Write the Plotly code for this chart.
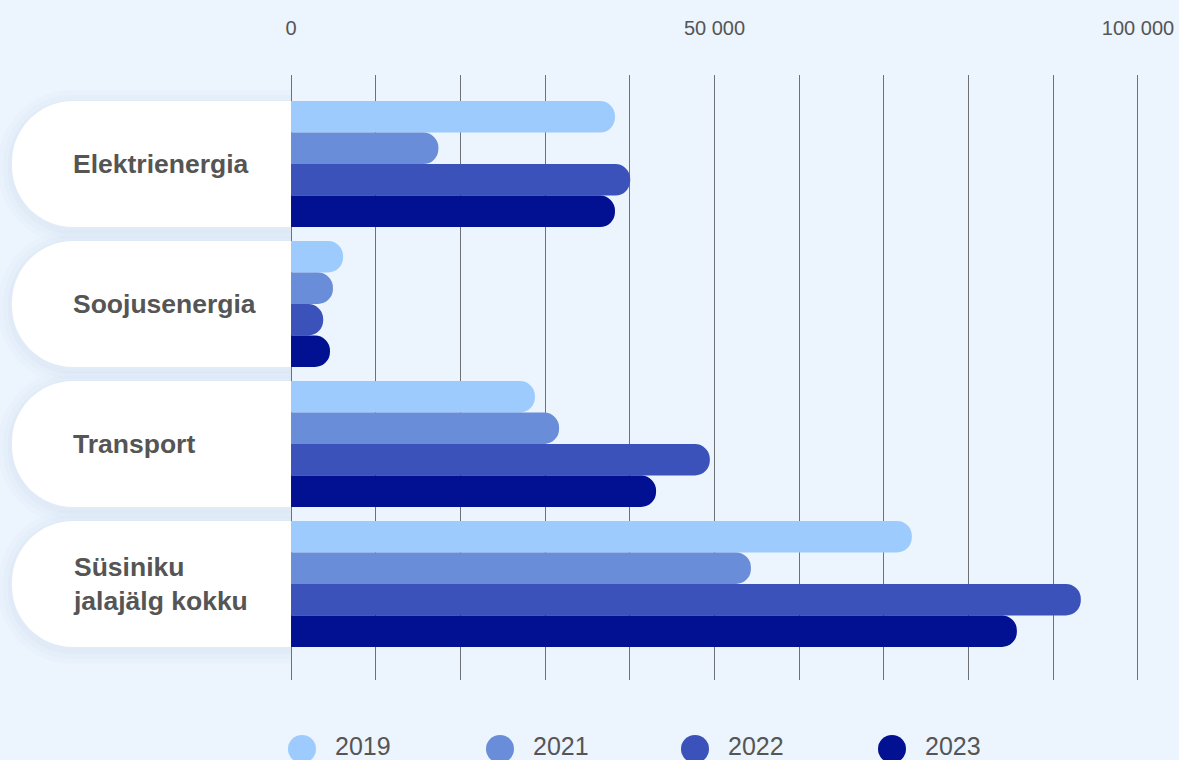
import plotly.graph_objects as go

categories = ["Elektrienergia", "Soojusenergia", "Transport", "Süsiniku<br>jalajälg kokku"]
years = ["2019", "2021", "2022", "2023"]
values_2019 = [38250, 6150, 28800, 73300]
values_2021 = [17400, 4950, 31650, 54300]
values_2022 = [40050, 3800, 49450, 93250]
values_2023 = [38250, 4600, 43100, 85700]
series = [values_2019, values_2021, values_2022, values_2023]
colors = ["#9DCBFE", "#6A8DDA", "#3A52BA", "#021092"]
x_tickvals = [0, 50000, 100000]
x_ticktext = ["0", "50 000", "100 000"]

W, H = 1179, 760
L, R, T, B = 290, 40, 75, 80
PW = W - L - R
PH = H - T - B
XR = [-120, 100120]
x0px = L + (0 - XR[0]) / (XR[1] - XR[0]) * PW

LEFT_PAD = 8000  # hidden part of bars so that only the right end is rounded
fig = go.Figure()
ypos = list(range(len(categories)))
for yr, vals, col in zip(years, series, colors):
    fig.add_trace(go.Bar(
        y=ypos, x=[v + LEFT_PAD for v in vals], base=[-LEFT_PAD] * len(vals),
        orientation="h", name=yr, marker=dict(color=col, line=dict(width=0), cornerradius=15),
        showlegend=False, hovertemplate="%{customdata}<extra>" + yr + "</extra>",
        customdata=vals,
    ))

def pill(xl, xr, h, r, dy=0):
    k = 0.5523 * r
    return (f"M{xr},{h+dy} L{xl+r},{h+dy} C{xl+r-k},{h+dy} {xl},{h-r+k+dy} {xl},{h-r+dy} "
            f"L{xl},{-h+r+dy} C{xl},{-h+r-k+dy} {xl+r-k},{-h+dy} {xl+r},{-h+dy} L{xr},{-h+dy} Z")

anchor0 = (x0px - L) / PW
shapes = []
annotations = []
for i, cat in enumerate(categories):
    # soft shadow
    for s, op in [(14, 0.02), (9, 0.03), (4, 0.04)]:
        shapes.append(dict(type="path", xref="paper", yref="y", xsizemode="pixel", ysizemode="pixel",
                           xanchor=anchor0, yanchor=i, path=pill(-279 - s, 0, 63 + s, 60 + s, dy=-3),
                           fillcolor="#7F97B5", opacity=op, line=dict(width=0), layer="below"))
    shapes.append(dict(type="path", xref="paper", yref="y", xsizemode="pixel", ysizemode="pixel",
                       xanchor=anchor0, yanchor=i, path=pill(-279, 0, 63, 61),
                       fillcolor="#FFFFFF", line=dict(width=0), layer="above"))
    annotations.append(dict(xref="paper", yref="y", x=(71 - L) / PW, y=i, xanchor="left", yanchor="middle",
                            text="<b>" + cat.replace("<br>", "</b><br><b>") + "</b>",
                            showarrow=False, align="left",
                            font=dict(family="Liberation Sans, Arial, sans-serif", size=26.5, color="#555555")))

# custom legend
leg_cx = [302, 500, 695, 892]
for yr, col, cx in zip(years, colors, leg_cx):
    shapes.append(dict(type="circle", xref="paper", yref="paper", xsizemode="pixel", ysizemode="pixel",
                       xanchor=(cx - L) / PW, yanchor=(PH - (749 - T)) / PH, x0=-14, x1=14, y0=-14, y1=14,
                       fillcolor=col, line=dict(width=0)))
    annotations.append(dict(xref="paper", yref="paper", x=(cx + 31 - L) / PW, y=(PH - (746 - T)) / PH,
                            xanchor="left", yanchor="middle", text=yr, showarrow=False,
                            font=dict(family="Liberation Sans, Arial, sans-serif", size=25, color="#555555")))

fig.update_layout(
    width=W, height=H, autosize=False,
    margin=dict(l=L, r=R, t=T, b=B, pad=0, autoexpand=False),
    paper_bgcolor="#ECF4FD", plot_bgcolor="rgba(0,0,0,0)",
    barmode="group", bargap=0.1, bargroupgap=0,
    shapes=shapes, annotations=annotations,
    showlegend=False,
    xaxis=dict(range=XR, side="top", tickvals=x_tickvals, ticktext=x_ticktext, automargin=False,
               showgrid=True, gridcolor="#6E7276", gridwidth=1, zeroline=False, showline=False,
               ticks="", ticklabelstandoff=35,
               tickfont=dict(family="Liberation Sans, Arial, sans-serif", size=20, color="#555555"),
               minor=dict(tickvals=list(range(10000, 100000, 10000)), showgrid=True,
                          gridcolor="#6E7276", gridwidth=1)),
    yaxis=dict(range=[3.686, -0.636], showgrid=False, zeroline=False, showticklabels=False,
               tickvals=ypos, showline=False, automargin=False),
)

fig.write_html("out.html", config={"displayModeBar": False},
               post_script="document.body.style.margin='0';document.body.style.background='#ECF4FD';")
